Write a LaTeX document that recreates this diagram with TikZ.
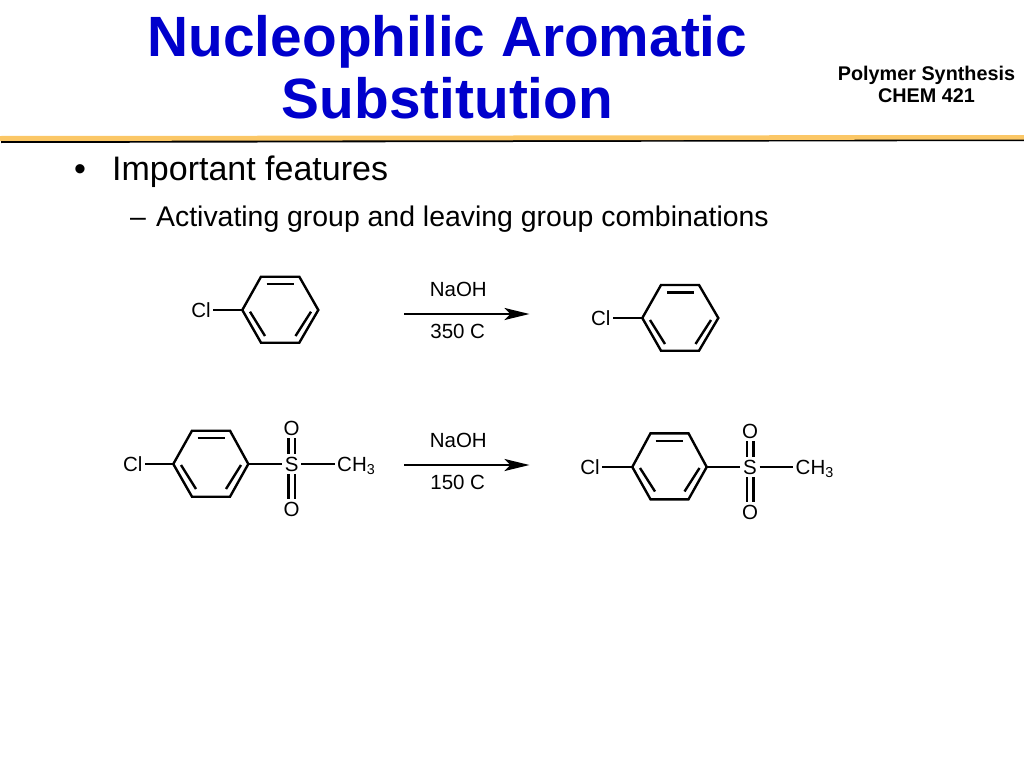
\documentclass[tikz,border=0pt]{standalone}
\usepackage{fontspec}
\setmainfont{Liberation Sans}
\usetikzlibrary{arrows.meta}
\definecolor{titleblue}{HTML}{0000CC}
\definecolor{rulegold}{HTML}{FBC766}
\tikzset{
    bond/.style={black, line width=2.4pt, line join=miter},
    atom/.style={font=\fontsize{20.5}{22}\selectfont, inner xsep=2.5pt, inner ysep=2.5pt, text height=14.7pt, text depth=0pt},
    reagent/.style={font=\fontsize{20.5}{22}\selectfont, inner sep=0pt},
    rxnarrow/.style={black, line width=2.4pt, -{Stealth[length=25pt, width=12pt, inset=6pt]}},
    bullettext/.style={anchor=base west, inner sep=0pt, text=black}
}
\begin{document}
\begin{tikzpicture}[x=1pt, y=-1pt]
        \useasboundingbox (0, 0) rectangle (1024, 768);

        \node[font=\bfseries\fontsize{56.8}{62}\selectfont, text=titleblue, align=center, anchor=center] (title) at (447.5, 67) {Nucleophilic Aromatic\\Substitution};
        \node[font=\bfseries\fontsize{19.8}{22}\selectfont, align=center, anchor=center] (course) at (926.5, 84) {Polymer Synthesis\\CHEM 421};

        \fill [black] (1, 140.5) -- (1024, 137) -- (1024, 141) -- (1, 143) -- cycle;
        \fill [rulegold] (0, 136) -- (1024, 135) -- (1024, 139.5) -- (0, 141) -- cycle;

        \node[bullettext, font=\fontsize{34}{36}\selectfont] (bullet) at (74, 180) {•};
        \node[bullettext, font=\fontsize{34}{36}\selectfont] (feat) at (112, 180) {Important features};
        \node[bullettext, font=\fontsize{28.4}{32}\selectfont] (dash) at (130, 226.5) {–};
        \node[bullettext, font=\fontsize{28.4}{32}\selectfont] (combo) at (156, 226.5) {Activating group and leaving group combinations};

        % first reactant
        \draw [bond] (242.3, 310) -- (261, 276.7) -- (299.3, 276.7) -- (318.3, 310) -- (299.3, 342.7) -- (261, 342.7) -- cycle;
        \draw [bond] (266.7, 284) -- (294.3, 284);
        \draw [bond] (250, 311.7) -- (265, 336);
        \draw [bond] (311, 311.7) -- (295.5, 336);
        \coordinate (ringA) at (242.3, 310);
        \node[atom] (clA) at (201, 310) {Cl};
        \draw [bond] (clA) -- (ringA);

        % first arrow
        \coordinate (arrowAs) at (404, 314);
        \coordinate (arrowAe) at (529.5, 314);
        \draw [rxnarrow] (arrowAs) -- (arrowAe);
        \node[reagent] (naohA) at (458.3, 289) {NaOH};
        \node[reagent] (tempA) at (457.7, 331) {350 C};

        % first product
        \draw [bond] (642.3, 318) -- (661, 285) -- (699, 285) -- (718.3, 318) -- (699, 350.7) -- (661, 350.7) -- cycle;
        \draw [bond] (667, 292.5) -- (694, 292.5);
        \draw [bond] (650, 320) -- (665, 344);
        \draw [bond] (711, 320) -- (695.5, 344);
        \coordinate (ringB) at (642.3, 318);
        \node[atom] (clB) at (600.7, 318) {Cl};
        \draw [bond] (clB) -- (ringB);

        % second reactant
        \draw [bond] (173.3, 464) -- (192, 430.7) -- (230, 430.7) -- (248.3, 464) -- (230, 496.7) -- (192, 496.7) -- cycle;
        \draw [bond] (197.5, 438) -- (225, 438);
        \draw [bond] (181, 465) -- (196, 489);
        \draw [bond] (241, 465) -- (226, 489);
        \coordinate (ringCl) at (173.3, 464);
        \coordinate (ringCr) at (248.3, 464);
        \node[atom] (clC) at (132.7, 464) {Cl};
        \node[atom] (sC) at (291.7, 464) {S};
        \node[atom] (oC) at (291.7, 427.7) {O};
        \node[atom] (odC) at (291.7, 509) {O};
        \node[atom, anchor=west] (meC) at (334.5, 464) {CH\textsubscript{3}};
        \draw [bond] (clC) -- (ringCl);
        \draw [bond] (ringCr) -- (sC);
        \draw [bond] (sC) -- (meC);
        \draw [bond] ([xshift=-3.3pt]sC.north) -- ([xshift=-3.3pt]oC.south);
        \draw [bond] ([xshift=3.3pt]sC.north) -- ([xshift=3.3pt]oC.south);
        \draw [bond] ([xshift=-3.3pt]sC.south) -- ([xshift=-3.3pt]odC.north);
        \draw [bond] ([xshift=3.3pt]sC.south) -- ([xshift=3.3pt]odC.north);

        % second arrow
        \coordinate (arrowBs) at (404, 465);
        \coordinate (arrowBe) at (529.5, 465);
        \draw [rxnarrow] (arrowBs) -- (arrowBe);
        \node[reagent] (naohB) at (458.3, 440) {NaOH};
        \node[reagent] (tempB) at (457.7, 482) {150 C};

        % second product
        \draw [bond] (632.3, 467) -- (650.5, 433.3) -- (688.5, 433.3) -- (706.7, 467) -- (688.5, 499.3) -- (650.5, 499.3) -- cycle;
        \draw [bond] (655.5, 441) -- (683, 441);
        \draw [bond] (640, 468) -- (655, 491.5);
        \draw [bond] (699.5, 468) -- (684.5, 491.5);
        \coordinate (ringDl) at (632.3, 467);
        \coordinate (ringDr) at (706.7, 467);
        \node[atom] (clD) at (590, 467) {Cl};
        \node[atom] (sD) at (750, 467) {S};
        \node[atom] (oD) at (750, 430.7) {O};
        \node[atom] (odD) at (750, 512) {O};
        \node[atom, anchor=west] (meD) at (793, 467) {CH\textsubscript{3}};
        \draw [bond] (clD) -- (ringDl);
        \draw [bond] (ringDr) -- (sD);
        \draw [bond] (sD) -- (meD);
        \draw [bond] ([xshift=-3.3pt]sD.north) -- ([xshift=-3.3pt]oD.south);
        \draw [bond] ([xshift=3.3pt]sD.north) -- ([xshift=3.3pt]oD.south);
        \draw [bond] ([xshift=-3.3pt]sD.south) -- ([xshift=-3.3pt]odD.north);
        \draw [bond] ([xshift=3.3pt]sD.south) -- ([xshift=3.3pt]odD.north);
\end{tikzpicture}
\end{document}
